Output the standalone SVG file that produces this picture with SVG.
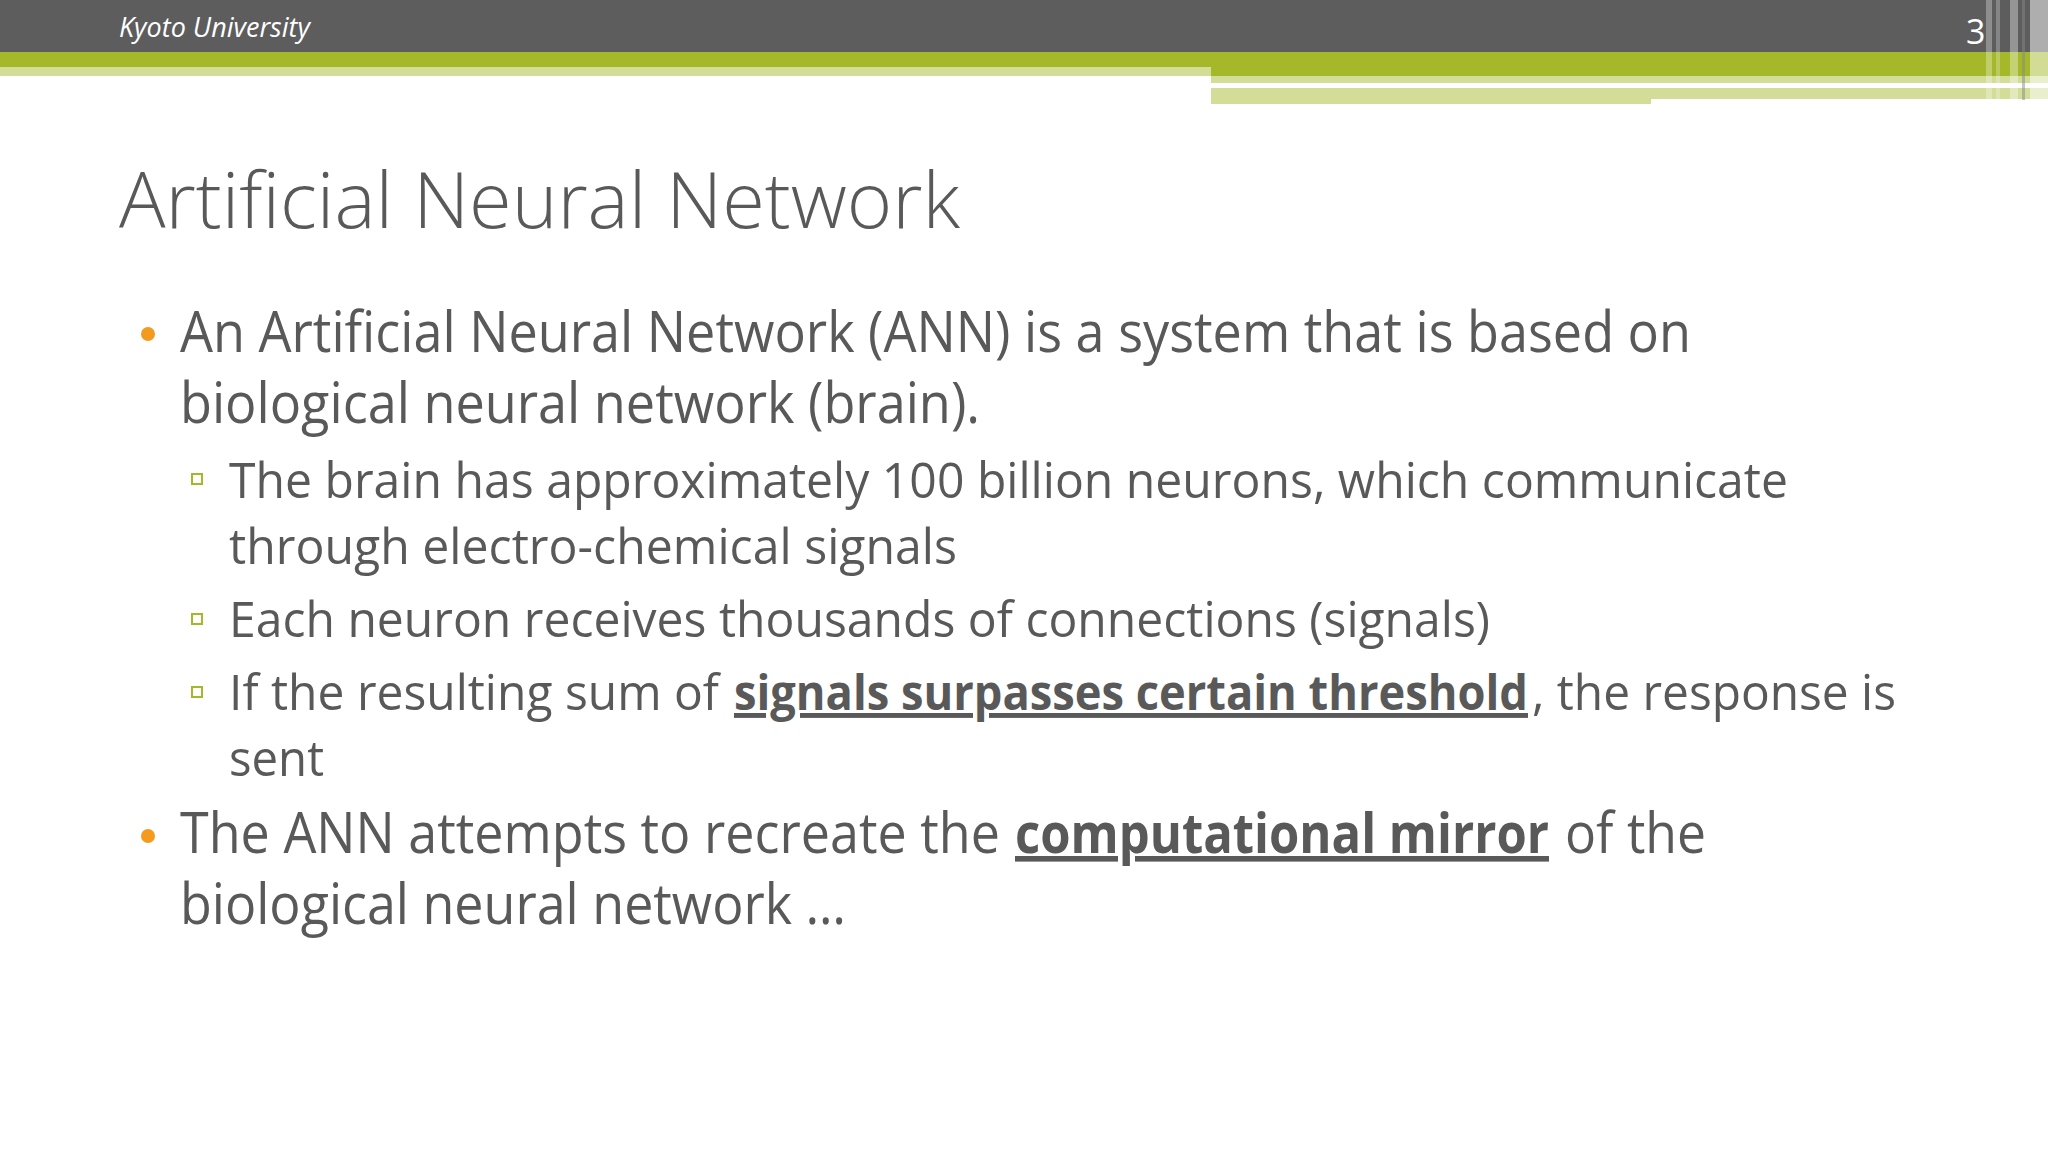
<svg xmlns="http://www.w3.org/2000/svg" width="2048" height="1152" viewBox="0 0 2048 1152">
<style>
.t{font-family:"Open Sans","Liberation Sans",sans-serif;fill:#595959}
.b1{font-size:56px}
.b2{font-size:49px}
.bd{font-weight:bold;text-decoration:underline}
</style>
<rect width="2048" height="1152" fill="#fff"/>
<g id="header">
<rect x="0" y="0" width="2048" height="52" fill="#5d5d5d"/>
<rect x="0" y="52" width="2048" height="15" fill="#a5b82a"/>
<rect x="0" y="67" width="1211" height="9" fill="#d3dd98"/>
<rect x="1211" y="67" width="837" height="9" fill="#a5b82a"/>
<rect x="1211" y="76" width="837" height="7" fill="#d3dd98"/>
<rect x="1211" y="88" width="440" height="16" fill="#d3dd98"/>
<rect x="1651" y="88" width="397" height="11" fill="#d3dd98"/>
<rect x="1986" y="0" width="6" height="100" fill="#fff" opacity="0.3"/>
<rect x="1996" y="0" width="4" height="100" fill="#fff" opacity="0.25"/>
<rect x="2010" y="0" width="8" height="100" fill="#fff" opacity="0.35"/>
<rect x="2022" y="0" width="3" height="100" fill="#888" opacity="0.5"/>
<rect x="2030" y="0" width="18" height="100" fill="#fff" opacity="0.5"/>
<text x="119" y="37" font-family="Open Sans, Liberation Sans, sans-serif" font-style="italic" font-size="27" fill="#fff">Kyoto University</text>
<text x="1966" y="44" font-family="Open Sans, Liberation Sans, sans-serif" font-size="34" fill="#fff">3</text>
</g>
<g id="title"><text class="t" x="119" y="228" font-size="78" font-weight="350" textLength="841" lengthAdjust="spacingAndGlyphs">Artificial Neural Network</text></g>
<g id="body">
<circle cx="148" cy="334" r="7" fill="#f39a1f"/>
<circle cx="148" cy="836" r="7" fill="#f39a1f"/>
<g fill="none" stroke="#a5b82a" stroke-width="2">
<rect x="192" y="474" width="10" height="10"/>
<rect x="192" y="614" width="10" height="10"/>
<rect x="192" y="687" width="10" height="10"/>
</g>
<text class="t b1" x="180" y="352" textLength="1511" lengthAdjust="spacingAndGlyphs">An Artificial Neural Network (ANN) is a system that is based on</text>
<text class="t b1" x="180" y="423" textLength="800" lengthAdjust="spacingAndGlyphs">biological neural network (brain).</text>
<text class="t b2" x="229" y="498" textLength="1559" lengthAdjust="spacingAndGlyphs">The brain has approximately 100 billion neurons, which communicate</text>
<text class="t b2" x="229" y="564" textLength="728" lengthAdjust="spacingAndGlyphs">through electro-chemical signals</text>
<text class="t b2" x="229" y="637" textLength="1261" lengthAdjust="spacingAndGlyphs">Each neuron receives thousands of connections (signals)</text>
<text class="t b2" x="229" y="710" textLength="490" lengthAdjust="spacingAndGlyphs">If the resulting sum of</text>
<text class="t b2 bd" x="734" y="710" textLength="794" lengthAdjust="spacingAndGlyphs">signals surpasses certain threshold</text>
<text class="t b2" x="1532" y="710" textLength="364" lengthAdjust="spacingAndGlyphs">, the response is</text>
<text class="t b2" x="229" y="776" textLength="95" lengthAdjust="spacingAndGlyphs">sent</text>
<text class="t b1" x="180" y="853" textLength="820" lengthAdjust="spacingAndGlyphs">The ANN attempts to recreate the</text>
<text class="t b1 bd" x="1015" y="853" textLength="534" lengthAdjust="spacingAndGlyphs">computational mirror</text>
<text class="t b1" x="1565" y="853" textLength="141" lengthAdjust="spacingAndGlyphs">of the</text>
<text class="t b1" x="180" y="924" textLength="666" lengthAdjust="spacingAndGlyphs">biological neural network …</text>
</g>
</svg>
